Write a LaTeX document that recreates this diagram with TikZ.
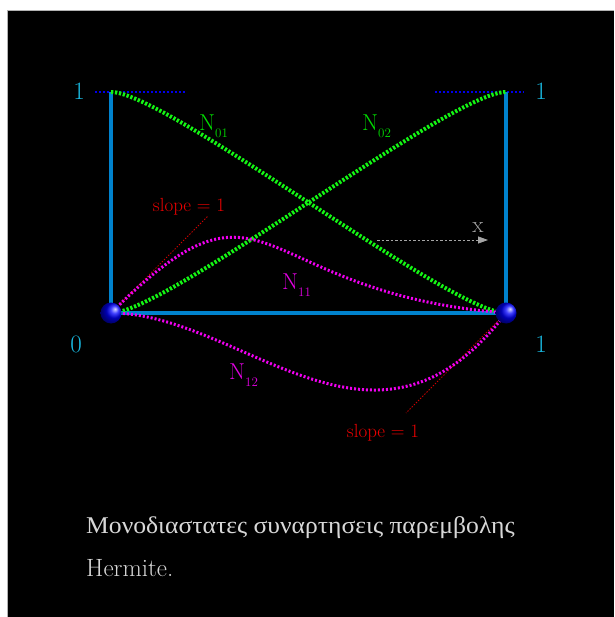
\documentclass[tikz,border=0pt]{standalone}
\usepackage{fontspec}
\newfontfamily\greekfont{Liberation Serif}
\usetikzlibrary{arrows.meta}
\definecolor{lineblue}{RGB}{0,130,205}
\definecolor{labcyan}{RGB}{25,185,225}
\definecolor{curvegreen}{RGB}{20,245,20}
\definecolor{labgreen}{RGB}{0,220,0}
\definecolor{curvemag}{RGB}{240,0,240}
\definecolor{labmag}{RGB}{225,0,225}
\definecolor{slopered}{RGB}{235,0,0}
\definecolor{slopeline}{RGB}{205,0,0}
\definecolor{topblue}{RGB}{0,0,235}
\definecolor{arrgray}{RGB}{165,165,165}
\definecolor{captext}{RGB}{215,215,215}
\begin{document}
\begin{tikzpicture}[x=1pt,y=-1pt,
  axisline/.style={draw=lineblue,line width=4pt},
  topdots/.style={draw=topblue,line width=1.2pt,dash pattern=on 2pt off 2pt},
  greencurve/.style={draw=curvegreen,line width=4pt,dash pattern=on 2.3pt off 1.7pt},
  magcurve/.style={draw=curvemag,line width=3pt,dash pattern=on 2pt off 2pt},
  slopedots/.style={draw=slopeline,line width=1pt,dash pattern=on 1.3pt off 1.7pt},
  ballnode/.style={circle,minimum size=21pt,inner sep=0pt,shading=ball,ball color=blue,shading angle=-90},
  numlab/.style={text=labcyan,font=\fontsize{25}{25}\selectfont,inner sep=0pt},
  slopelab/.style={text=slopered,font=\fontsize{19}{19}\selectfont,inner sep=0pt},
  nlab/.style={font=\fontsize{23}{23}\selectfont,inner sep=0pt,anchor=base west},
]
\useasboundingbox (0,0) rectangle (614,617);
\fill[white] (0,0) rectangle (614,617);
\fill[black] (7.5,10.5) rectangle (614,617);
\draw[gray!60,line width=0.8pt] (7.5,617) -- (7.5,10.5) -- (614,10.5);

% corner points
\coordinate (TL) at (111,92);
\coordinate (TR) at (506,92);
\coordinate (a) at (111,313);
\coordinate (b) at (506,313);

% dotted reference lines at height 1
\coordinate (tl1) at (95,92);
\coordinate (tl2) at (185,92);
\coordinate (tr1) at (435,92);
\coordinate (tr2) at (524,92);
\draw[topdots] (tl1) -- (tl2);
\draw[topdots] (tr1) -- (tr2);

% frame
\draw[axisline] (TL) -- (a) -- (b) -- (TR);

% slope lines
\coordinate (s1) at (208,216);
\coordinate (s2) at (406,413);
\draw[slopedots] (a) -- (s1);
\draw[slopedots] (b) -- (s2);

% x arrow
\coordinate (x1) at (377,240);
\coordinate (x2) at (488,240);
\draw[arrgray,line width=0.8pt,dash pattern=on 2.5pt off 2pt,-{Triangle[length=10pt,width=7pt]}] (x1) -- (x2);
\node[text=arrgray,font=\fontsize{23}{23}\selectfont,inner sep=0pt,anchor=base] (xl) at (478,233) {x};

% Hermite curves
\draw[greencurve] (TL) .. controls (166,92) and (451,313) .. (b);
\draw[greencurve] (a) .. controls (166,313) and (451,92) .. (TR);
\draw[magcurve] (a) .. controls (271,153) and (248,293) .. (b);
\draw[magcurve] (a) .. controls (242.7,313) and (374.3,486.3) .. (b);

% balls
\node[ballnode] (A) at (a) {};
\node[ballnode] (B) at (b) {};

% labels
\node[numlab] (l1) at (79,91) {1};
\node[numlab] (r1) at (541,91) {1};
\node[numlab] (l0) at (76,344) {0};
\node[numlab] (r0) at (541,344) {1};

\node[slopelab] (sl1) at (189,207) {slope = 1};
\node[slopelab] (sl2) at (383,433) {slope = 1};

\node[nlab,text=labgreen] (n01) at (199,131) {N\raisebox{-7pt}{\fontsize{13}{13}\selectfont 01}};
\node[nlab,text=labgreen] (n02) at (362,131) {N\raisebox{-7pt}{\fontsize{13}{13}\selectfont 02}};
\node[nlab,text=labmag] (n11) at (282,289) {N\raisebox{-7pt}{\fontsize{13}{13}\selectfont 11}};
\node[nlab,text=labmag] (n12) at (229,379) {N\raisebox{-7pt}{\fontsize{13}{13}\selectfont 12}};

% caption
\node[text=captext,inner sep=0pt,anchor=base west,font=\greekfont\fontsize{24}{24}\selectfont] (cap1) at (86,533) {\scalebox{1.067}[1]{Μονοδιαστατες συναρτησεις παρεμβολης}};
\node[text=captext,inner sep=0pt,anchor=base west,font=\fontsize{25}{25}\selectfont] (cap2) at (86,576) {Hermite.};
\end{tikzpicture}
\end{document}
